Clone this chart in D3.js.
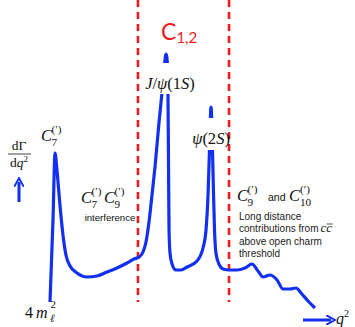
<!DOCTYPE html>
<html>
<head>
<meta charset="utf-8">
<script src="https://cdn.jsdelivr.net/npm/d3@7"></script>
<style>
  html, body { margin: 0; padding: 0; background: #fff; }
  svg { display: block; }
  .serif { font-family: "Liberation Serif", "DejaVu Serif", serif; }
  .sans { font-family: "Liberation Sans", "DejaVu Sans", sans-serif; }
</style>
</head>
<body>
<svg id="chart" width="355" height="327"></svg>
<script>
// Schematic differential rate dΓ/dq² of b → s ℓℓ versus q²
const q2 = [0, 0.25, 0.42, 0.58, 0.83, 1.08, 1.33, 1.67, 2.25, 3.08, 3.92, 4.75, 5.58, 6.42,
  7.00, 7.42, 7.75, 8.00, 8.25, 8.50, 8.75, 9.08, 9.33, 9.54, 9.67, 9.79, 9.83, 9.88, 9.92,
  10.00, 10.17, 10.50, 10.92, 11.42, 12.25, 12.75, 13.00, 13.17, 13.29, 13.42, 13.54, 13.63,
  13.71, 13.83, 14.08, 14.42, 14.92, 15.58, 16.25, 16.83, 17.33, 17.75, 18.33, 18.92, 19.42,
  20.00, 20.50, 20.92, 21.50, 22.08];
const rate = [0, 3.28, 5.96, 5.28, 3.88, 2.68, 1.88, 1.44, 1.16, 1.00, 1.04, 1.20, 1.36, 1.56,
  1.72, 1.80, 2.00, 2.40, 3.20, 4.28, 5.40, 7.16, 8.36, 9.48, 9.92, 9.48, 8.36, 5.28, 2.88,
  1.96, 1.52, 1.28, 1.28, 1.40, 1.64, 2.16, 2.88, 4.28, 6.08, 7.80, 6.08, 4.28,
  2.88, 1.96, 1.52, 1.32, 1.28, 1.28, 1.36, 1.52, 1.24, 1.00, 1.08, 0.88, 0.52,
  0.52, 0.56, 0.36, 0.04, -0.24];

// Region boundaries in q² (dashed lines)
const boundaries = [7.33, 14.92];
// Resonance peaks
const resonances = [
  { name: "J/ψ(1S)", q2: 9.67, top: 9.92 },
  { name: "ψ(2S)", q2: 13.42, top: 7.80 }
];
const notes = ["Long distance", "contributions from", "above open charm", "threshold"];

const BLUE = "#1330f0";
const RED = "#ee1c1c";

const svg = d3.select("#chart");
const x = d3.scaleLinear().domain([0, 22]).range([50, 314]);
const y = d3.scaleLinear().domain([0, 10]).range([302, 52]);

const defs = svg.append("defs");
defs.append("marker")
  .attr("id", "head")
  .attr("viewBox", "0 0 10 10")
  .attr("refX", 5).attr("refY", 5)
  .attr("markerWidth", 3.2).attr("markerHeight", 3.6)
  .attr("orient", "auto")
  .append("path")
  .attr("d", "M0,0 L9,5 L0,10")
  .attr("fill", "none")
  .attr("stroke", BLUE)
  .attr("stroke-width", 2);

// dashed region boundaries
svg.selectAll("line.bound").data(boundaries).join("line")
  .attr("class", "bound")
  .attr("x1", d => x(d)).attr("x2", d => x(d))
  .attr("y1", 0).attr("y2", y(0))
  .attr("stroke", RED)
  .attr("stroke-width", 2.6)
  .attr("stroke-dasharray", "7,5");

// rate curve
const pts = q2.map((q, i) => [q, rate[i]]);
const line = d3.line().x(d => x(d[0])).y(d => y(d[1])).curve(d3.curveMonotoneX);
svg.append("path")
  .datum(pts)
  .attr("d", line)
  .attr("fill", "none")
  .attr("stroke", BLUE)
  .attr("stroke-width", 3.2)
  .attr("stroke-linejoin", "round");

// white boxes under resonance labels
svg.append("rect").attr("x", x(resonances[0].q2) - 10).attr("y", 63)
  .attr("width", 20).attr("height", 31).attr("fill", "#fff");
svg.append("rect").attr("x", x(resonances[1].q2) - 9).attr("y", 118)
  .attr("width", 17).attr("height", 32).attr("fill", "#fff");

function txt(xp, yp, s, size, opts = {}) {
  return svg.append("text")
    .attr("x", xp).attr("y", yp)
    .attr("class", opts.sans ? "sans" : "serif")
    .attr("font-size", size)
    .attr("fill", opts.fill || "#111")
    .attr("font-style", opts.italic ? "italic" : "normal")
    .attr("text-anchor", opts.anchor || "start")
    .text(s);
}
// C with subscript and (′) superscript
function coef(xp, yp, sub, size) {
  txt(xp, yp, "C", size, { italic: true });
  const sx = xp + size * 0.64;
  txt(sx, yp + size * 0.28, sub, size * 0.68);
  txt(sx, yp - size * 0.5, "(′)", size * 0.68);
}

// resonance labels
(function () {
  const t = svg.append("text").attr("class", "serif").attr("font-size", 16.5)
    .attr("x", 170).attr("y", 89).attr("text-anchor", "middle").attr("fill", "#111");
  t.append("tspan").attr("font-style", "italic").text("J");
  t.append("tspan").text("/");
  t.append("tspan").attr("font-style", "italic").text("ψ");
  t.append("tspan").text("(1");
  t.append("tspan").attr("font-style", "italic").text("S");
  t.append("tspan").text(")");
})();
(function () {
  const t = svg.append("text").attr("class", "serif").attr("font-size", 16.5)
    .attr("x", 211).attr("y", 144).attr("text-anchor", "middle").attr("fill", "#111");
  t.append("tspan").attr("font-style", "italic").text("ψ");
  t.append("tspan").text("(2");
  t.append("tspan").attr("font-style", "italic").text("S");
  t.append("tspan").text(")");
})();

// C_{1,2}
(function () {
  const t = svg.append("text").attr("font-family", "Lato, 'Open Sans', sans-serif")
    .attr("x", 161).attr("y", 40).attr("fill", RED);
  t.append("tspan").attr("font-size", 23).text("C");
  t.append("tspan").attr("font-size", 15).attr("dy", 3).text("1,2");
})();

// C7 peak label
coef(41, 141, "7", 16.5);
// interference label
coef(81, 203, "7", 16.5);
coef(104, 203, "9", 16.5);
txt(110, 221, "interference", 9.6, { sans: true, anchor: "middle" });

// high-q² label
coef(237, 201, "9", 16.5);
txt(268, 201, "and", 10.5, { sans: true });
txt(289, 201, "C", 16.5, { italic: true });
txt(300, 205.6, "10", 11.2);
txt(300, 192.8, "(′)", 11.2);

svg.selectAll("text.note").data(notes).join("text")
  .attr("class", "note sans")
  .attr("x", 239)
  .attr("y", (d, i) => 220 + i * 12.3)
  .attr("font-size", 10)
  .attr("fill", "#222")
  .text(d => d);
// c c̄ after "contributions from"
(function () {
  const noteNode = svg.selectAll("text.note").nodes()[1];
  const w = noteNode.getComputedTextLength();
  const cx = 239 + w + 2;
  const t = svg.append("text").attr("class", "serif").attr("font-size", 13)
    .attr("x", cx).attr("y", 232.3).attr("fill", "#222").attr("font-style", "italic");
  t.append("tspan").text("c");
  t.append("tspan").text("c");
  const full = t.node().getComputedTextLength();
  const cw = full / 2;
  svg.append("line").attr("x1", cx + cw + 0.5).attr("x2", cx + full + 0.5)
    .attr("y1", 224).attr("y2", 224)
    .attr("stroke", "#222").attr("stroke-width", 0.8);
})();

// 4 m_ℓ²
txt(25, 318, "4", 16);
txt(36, 318, "m", 16, { italic: true });
txt(50, 321.5, "ℓ", 11, { italic: true });
txt(50.5, 308, "2", 11);

// axis label dΓ/dq²
txt(19, 150, "dΓ", 13.5, { anchor: "middle" });
svg.append("line").attr("x1", 8).attr("x2", 31).attr("y1", 154).attr("y2", 154)
  .attr("stroke", "#111").attr("stroke-width", 0.8);
(function () {
  const t = svg.append("text").attr("class", "serif").attr("font-size", 13.5)
    .attr("x", 19).attr("y", 167).attr("text-anchor", "middle").attr("fill", "#111");
  t.append("tspan").text("d");
  t.append("tspan").attr("font-style", "italic").text("q");
  t.append("tspan").attr("font-size", 9).attr("dy", -5).text("2");
})();

// arrows
svg.append("line").attr("x1", 19).attr("x2", 19).attr("y1", 202).attr("y2", 182)
  .attr("stroke", BLUE).attr("stroke-width", 3).attr("marker-end", "url(#head)");
svg.append("line").attr("x1", 303).attr("x2", 331).attr("y1", 320).attr("y2", 320)
  .attr("stroke", BLUE).attr("stroke-width", 3).attr("marker-end", "url(#head)");
(function () {
  const t = svg.append("text").attr("class", "serif").attr("font-size", 16)
    .attr("x", 336).attr("y", 324).attr("fill", "#111");
  t.append("tspan").attr("font-style", "italic").text("q");
  t.append("tspan").attr("font-size", 10).attr("dy", -7).text("2");
})();
</script>
</body>
</html>
